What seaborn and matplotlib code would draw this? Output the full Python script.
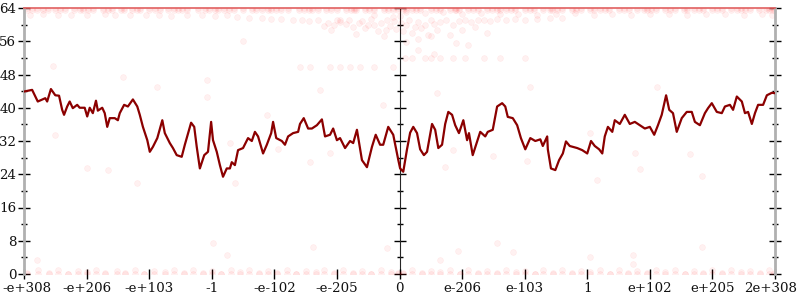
import matplotlib
matplotlib.use("Agg")
import matplotlib.pyplot as plt
import matplotlib.transforms as mtransforms
import seaborn as sns
import pandas as pd
import numpy as np

# ---------------- data ----------------
tick_labels = ["-e+308", "-e+206", "-e+103", "-1", "-e-102", "-e-205", "0",
               "e-206", "e-103", "1", "e+102", "e+205", "2e+308"]

# average bits of error (line), x in tick-position units
line_x = [0.00, 0.13, 0.22, 0.34, 0.37, 0.43, 0.50, 0.56, 0.61, 0.64, 0.69, 0.73, 0.78, 0.85, 0.89,
          0.97, 1.01, 1.05, 1.10, 1.15, 1.18, 1.25, 1.29, 1.33, 1.37, 1.45, 1.50, 1.53, 1.60, 1.66,
          1.74, 1.81, 1.85, 1.90, 1.97, 2.01, 2.06, 2.13, 2.21, 2.25, 2.33, 2.38, 2.44, 2.52, 2.57,
          2.67, 2.72, 2.76, 2.81, 2.88, 2.94, 2.99, 3.02, 3.08, 3.13, 3.18, 3.24, 3.29, 3.32, 3.37,
          3.42, 3.50, 3.58, 3.64, 3.69, 3.74, 3.82, 3.88, 3.95, 3.98, 4.03, 4.12, 4.17, 4.22, 4.30,
          4.38, 4.41, 4.47, 4.54, 4.60, 4.68, 4.76, 4.81, 4.89, 4.94, 5.00, 5.05, 5.13, 5.21, 5.26,
          5.32, 5.40, 5.48, 5.56, 5.62, 5.69, 5.74, 5.82, 5.90, 5.98,
          6.01, 6.06, 6.12, 6.17, 6.22, 6.28, 6.33, 6.39, 6.44, 6.52, 6.57, 6.62, 6.68, 6.73, 6.78,
          6.84, 6.89, 6.95, 7.02, 7.08, 7.11, 7.17, 7.29, 7.37, 7.41, 7.49, 7.56, 7.64, 7.69, 7.73,
          7.81, 7.88, 7.94, 8.01, 8.09, 8.17, 8.25, 8.29, 8.36, 8.37, 8.42, 8.49, 8.55, 8.61, 8.66,
          8.72, 8.84, 8.92, 9.00, 9.06, 9.12, 9.19, 9.24, 9.28, 9.33, 9.40, 9.44, 9.52, 9.60, 9.68,
          9.76, 9.84, 9.92, 10.00, 10.07, 10.13, 10.19, 10.26, 10.31, 10.37, 10.43, 10.51, 10.59,
          10.67, 10.72, 10.80, 10.88, 10.93, 10.99, 11.07, 11.15, 11.20, 11.28, 11.33, 11.39, 11.47,
          11.52, 11.57, 11.63, 11.68, 11.73, 11.81, 11.87, 11.95, 12.00]
line_y = [43.9, 44.3, 41.5, 42.3, 41.5, 44.5, 43.0, 42.9, 39.5, 38.3, 40.3, 41.5, 39.9, 40.7, 40.0,
          40.0, 37.9, 40.0, 38.7, 41.7, 39.3, 40.0, 38.7, 35.4, 37.5, 37.5, 37.0, 38.7, 40.7, 40.3,
          42.0, 40.3, 38.3, 35.4, 32.2, 29.4, 30.6, 32.7, 37.0, 33.9, 31.5, 30.3, 28.6, 28.2, 31.1,
          36.4, 35.4, 30.6, 25.4, 28.6, 29.4, 36.6, 32.2, 29.4, 26.2, 23.4, 25.4, 25.4, 26.9, 26.2,
          29.8, 30.3, 32.7, 32.0, 34.2, 33.1, 29.0, 31.1, 33.9, 36.6, 32.7, 32.0, 31.1, 33.1, 33.9,
          34.2, 36.1, 37.5, 35.0, 35.0, 35.8, 37.2, 33.1, 33.5, 35.0, 32.2, 32.7, 30.3, 32.0, 31.5,
          34.7, 27.4, 25.7, 30.6, 33.5, 31.1, 31.1, 35.4, 33.5, 27.5,
          25.4, 24.6, 30.0, 34.0, 35.4, 33.9, 30.0, 28.6, 29.4, 36.1, 34.7, 30.3, 31.1, 36.1, 39.0,
          38.3, 35.8, 33.9, 37.0, 32.2, 33.9, 28.6, 34.2, 33.1, 34.2, 34.7, 40.3, 41.1, 40.3, 37.8,
          37.5, 35.8, 32.7, 30.0, 32.7, 32.0, 32.4, 30.8, 33.1, 30.0, 25.4, 25.0, 27.4, 29.0, 31.9,
          30.8, 30.3, 29.8, 29.0, 32.0, 30.8, 30.0, 29.0, 33.1, 35.4, 34.2, 37.0, 36.1, 38.3, 36.1,
          36.6, 35.8, 35.0, 35.4, 33.5, 35.8, 38.3, 43.0, 39.5, 38.7, 34.2, 37.5, 39.0,
          39.0, 36.6, 35.8, 38.7, 39.9, 41.1, 39.0, 38.7, 40.3, 40.7, 39.5, 42.7, 41.5,
          38.7, 39.0, 36.1, 38.7, 40.7, 40.7, 43.0, 43.6, 43.5]

# individual sample points (faint red dots)
top_x = [0.05, 0.2, 0.38, 0.5, 0.66, 0.8, 0.95, 1.1, 1.27, 1.4, 1.55, 1.72, 1.85, 2.0, 2.17,
         2.3, 2.46, 2.6, 2.78, 2.9, 3.05, 3.2, 3.36, 3.5, 3.64, 3.8, 3.95, 4.1, 4.22, 4.4, 4.55,
         4.7, 4.83, 5.0, 5.15, 5.28, 5.45, 5.6, 5.75, 5.9, 5.97, 6.05, 6.2, 6.33, 6.5, 6.64, 6.8,
         6.95, 7.1, 7.25, 7.4, 7.55, 7.7, 7.85, 8.0, 8.15, 8.3, 8.44, 8.6, 8.75, 8.9, 9.05, 9.2,
         9.35, 9.5, 9.66, 9.8, 9.95, 10.1, 10.25, 10.4, 10.55, 10.7, 10.85, 11.0, 11.15, 11.3,
         11.45, 11.6, 11.75, 11.9, 11.98, 0.12, 0.9, 1.6, 2.4, 3.1, 3.9, 4.6, 5.3, 6.1, 6.9, 7.6,
         8.4, 9.1, 9.9, 10.6, 11.4, 11.95, 0.3, 0.58, 1.02, 1.35, 1.8, 2.1, 2.52, 2.95, 3.28,
         3.7, 4.02, 4.48, 4.9, 5.22, 5.52, 5.82, 6.27, 6.58, 6.88, 7.18, 7.48, 7.78, 8.08, 8.52,
         8.82, 9.28, 9.58, 10.02, 10.32, 10.78, 11.08, 11.52, 11.85]
top_y = [64] * len(top_x)

second_x = [0.1, 0.3, 0.55, 0.75, 1.0, 1.3, 1.45, 1.7, 1.95, 2.15, 2.35, 2.6, 2.85, 3.05, 3.25,
            6.1, 6.4, 6.7, 7.0, 7.3, 7.6, 7.9, 8.2, 8.5, 8.8, 9.1, 9.4, 9.7, 10.0, 10.3, 10.6,
            10.9, 11.2, 11.5, 11.8, 11.95]
second_y = [62.3, 62.5, 62.3, 62.4, 62.2, 62.5, 62.3, 62.2, 62.4, 62.3, 62.1, 62.4, 62.2, 62.0, 62.3,
            63.0, 62.8, 63.1, 62.6, 62.8, 62.5, 62.6, 62.4, 62.5, 62.7, 62.3, 62.6, 62.4, 62.5, 62.6, 62.4,
            62.5, 62.6, 62.3, 62.5, 62.4]

band_x = [3.4, 3.6, 3.8, 3.95, 4.1, 4.3, 4.45, 4.55, 4.7, 4.85, 4.95, 5.05, 5.15, 5.25, 5.35,
          5.45, 5.5, 5.6, 5.7, 5.78, 5.85, 5.92, 5.05, 5.2, 5.4, 5.55, 5.65, 5.8, 4.8, 4.9, 5.0,
          5.3, 5.75, 5.95, 6.02, 6.1, 6.15, 6.25, 6.3, 6.4, 6.5, 6.55, 6.65, 6.75, 6.85, 6.95,
          7.05, 7.15, 7.25, 7.35, 7.45, 7.55, 7.7, 7.85, 8.0, 8.2, 8.4, 8.6, 6.05, 6.2, 6.35, 6.45,
          6.6, 6.8, 7.0, 7.2, 6.1, 6.3, 6.5, 6.9, 7.4, 5.6, 5.9, 6.0]
band_y = [61.8, 61.6, 61.7, 61.3, 61.4, 61.0, 61.2, 60.8, 61.0, 60.5, 59.8, 60.6, 60.2, 59.5, 60.4,
          59.2, 60.0, 59.8, 60.3, 58.8, 59.6, 60.8, 61.2, 61.0, 60.8, 61.4, 58.5, 61.0, 59.6, 58.6, 61.2,
          57.8, 57.2, 59.0, 60.5, 60.0, 61.0, 59.5, 60.6, 59.8, 61.0, 60.2, 60.6, 61.0, 59.8, 60.8,
          61.2, 60.6, 61.0, 61.2, 60.8, 61.4, 61.2, 61.4, 61.0, 61.4, 61.5, 61.6, 58.5, 58.0, 59.3, 57.6,
          58.8, 57.5, 58.6, 59.4, 55.8, 56.5, 57.2, 55.6, 58.0, 62.2, 61.9, 62.0]

sparse_x = [0.47, 1.58, 2.92, 3.5, 4.41, 4.57, 4.89, 5.05, 5.21, 5.37, 5.6, 5.9, 6.08, 6.2,
            6.4, 6.5, 6.65, 6.85, 7.05, 7.35, 7.6, 8.0, 6.3, 6.55, 7.1,
            0.5, 1.01, 1.34, 1.81, 2.13, 2.92, 3.29, 3.37, 3.88, 4.06, 4.57, 4.89, 5.73, 4.73,
            6.6, 6.85, 6.73, 7.49, 8.09, 8.04, 9.04, 9.16, 9.76, 9.84, 10.11, 10.64, 10.83,
            0.21, 3.02, 3.24, 4.62, 5.80, 6.65, 6.93, 7.56, 7.81, 9.04, 9.73, 9.73, 10.83]
sparse_y = [50.0, 47.4, 46.7, 56.0, 49.8, 49.8, 49.8, 49.8, 49.8, 49.8, 49.8, 49.8, 52.0, 52.0,
            52.0, 52.0, 52.0, 52.0, 52.0, 52.0, 52.0, 52.0, 54.0, 53.0, 55.0,
            33.4, 25.5, 25.0, 22.0, 45.0, 42.6, 31.4, 22.0, 38.3, 30.0, 27.0, 29.0, 40.6, 44.3,
            43.5, 29.8, 25.7, 28.5, 45.1, 27.3, 34.0, 22.6, 29.2, 25.2, 45.0, 28.8, 23.5,
            3.4, 7.5, 4.6, 6.5, 6.3, 3.3, 5.6, 7.4, 5.4, 4.2, 4.5, 2.5, 6.5]

bottom_x = [0.05, 0.22, 0.4, 0.55, 0.7, 0.86, 1.0, 1.15, 1.3, 1.48, 1.62, 1.78, 1.92, 2.08, 2.25,
            2.4, 2.55, 2.7, 2.86, 3.0, 3.15, 3.3, 3.45, 3.6, 3.76, 3.9, 4.05, 4.2, 4.35, 4.5, 4.66,
            4.8, 4.95, 5.1, 5.25, 5.4, 5.55, 5.7, 5.86, 5.97, 6.05, 6.2, 6.36, 6.5, 6.65, 6.8, 6.96,
            7.1, 7.26, 7.4, 7.55, 7.7, 7.86, 8.0, 8.16, 8.3, 8.45, 8.6, 8.76, 8.9, 9.05, 9.2, 9.36,
            9.5, 9.65, 9.8, 9.96, 10.1, 10.25, 10.4, 10.56, 10.7, 10.85, 11.0, 11.15, 11.3, 11.46,
            11.6, 11.76, 11.9, 11.98]
bottom_y = [0.2, 1.0, 0.3, 0.9, 0.1, 0.8, 0.4, 1.0, 0.2, 0.7, 0.3, 1.0, 0.1, 0.8, 0.4,
            0.9, 0.2, 1.0, 0.3, 0.7, 0.1, 0.9, 0.4, 1.0, 0.2, 0.8, 0.3, 1.0, 0.1, 0.7, 0.4,
            0.9, 0.2, 1.0, 0.3, 0.8, 0.1, 0.9, 0.4, 0.2, 0.3, 1.0, 0.2, 0.8, 0.4, 1.0, 0.1,
            0.9, 0.3, 0.7, 0.2, 1.0, 0.4, 0.8, 0.1, 0.9, 0.3, 1.0, 0.2, 0.7, 0.4, 0.9, 0.1,
            1.0, 0.3, 0.8, 0.2, 0.9, 0.4, 1.0, 0.1, 0.8, 0.3, 0.9, 0.2, 1.0, 0.4,
            0.7, 0.2, 0.9, 0.3]

y_major = [0, 8, 16, 24, 32, 40, 48, 56, 64]
y_minor = [4, 12, 20, 28, 36, 44, 52, 60]

# ---------------- plotting ----------------
sns.set_style("white")
plt.rcParams["font.family"] = ["DejaVu Serif"]

fig = plt.figure(figsize=(8, 3), dpi=100)
ax = fig.add_axes([24 / 800, 26 / 300, 751 / 800, 266 / 300])

pts = pd.DataFrame({
    "x": top_x + top_x + second_x + band_x + sparse_x + bottom_x + bottom_x,
    "y": top_y + [63.5] * len(top_x) + second_y + band_y + sparse_y + bottom_y + [0.0] * len(bottom_x),
})
sns.scatterplot(data=pts, x="x", y="y", ax=ax, color="#ff0000", alpha=0.055, s=18,
                edgecolor="#ff0000", linewidth=0.5, zorder=2)

ln = pd.DataFrame({"x": line_x, "y": line_y})
sns.lineplot(data=ln, x="x", y="y", ax=ax, color="#8b0000", linewidth=1.6,
             estimator=None, sort=False, zorder=3)

ax.set_xlim(0, 12)
ax.set_ylim(0, 64)
ax.set_xlabel("")
ax.set_ylabel("")

ax.set_xticks(range(len(tick_labels)))
ax.set_xticklabels(tick_labels)
ax.set_yticks(y_major)
ax.set_yticklabels([str(v) for v in y_major])
ax.set_yticks(y_minor, minor=True)

ax.spines["bottom"].set_visible(False)
ax.spines["top"].set_color("#e06060")
ax.spines["top"].set_linewidth(1.2)
for s in ["left", "right"]:
    ax.spines[s].set_color("#b0b0b0")
    ax.spines[s].set_linewidth(2)

ax.tick_params(axis="both", which="major", direction="inout", color="black",
               labelsize=9.6, width=1, labelcolor="#111111")
ax.tick_params(axis="y", which="major", length=9, pad=1, left=True, right=True)
ax.tick_params(axis="y", which="minor", length=4.5, width=1, direction="inout",
               left=True, right=True, color="black")
ax.tick_params(axis="x", which="major", length=7, pad=2, bottom=True)

# nudge the outermost tick labels so they stay inside the canvas
xlabels = ax.get_xticklabels()
first, last = xlabels[0], xlabels[-1]
first.set_transform(first.get_transform() +
                    mtransforms.ScaledTranslation(3 / 100, 0, fig.dpi_scale_trans))
last.set_transform(last.get_transform() +
                   mtransforms.ScaledTranslation(-4 / 100, 0, fig.dpi_scale_trans))

# middle axis at x = 0
mid = ax.secondary_yaxis(0.5)
mid.set_yticks(y_major)
mid.set_yticklabels([])
mid.set_yticks(y_minor, minor=True)
mid.spines["left"].set_color("#b0b0b0")
mid.spines["left"].set_linewidth(2)
mid.tick_params(axis="y", which="major", direction="inout", length=9, width=1, color="black")
mid.tick_params(axis="y", which="minor", direction="inout", length=4.5, width=1, color="black")

ax.grid(False)
fig.savefig("out.png", dpi=100)
